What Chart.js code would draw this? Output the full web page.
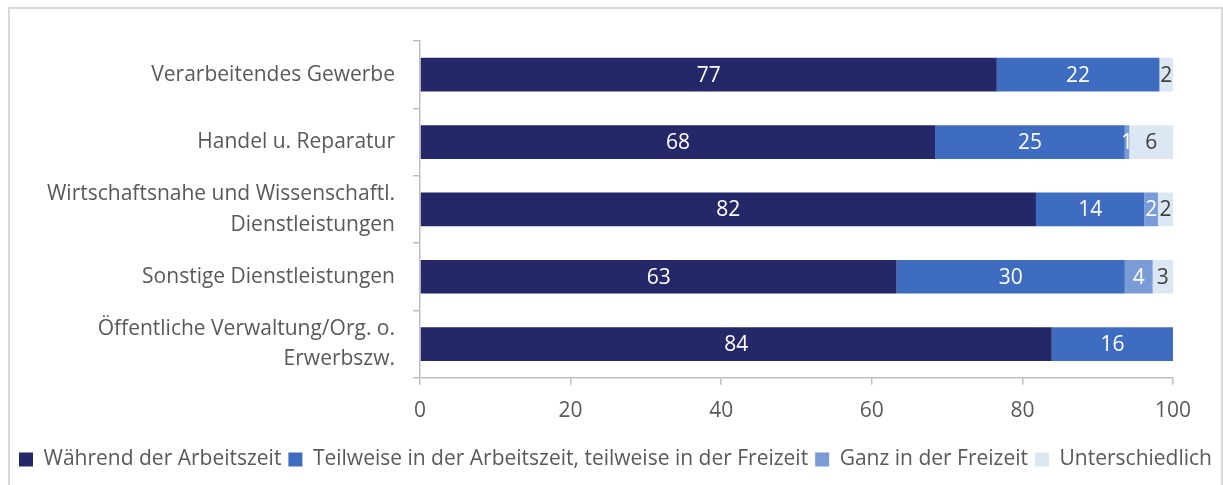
<!DOCTYPE html>
<html>
<head>
<meta charset="utf-8">
<script src="https://cdn.jsdelivr.net/npm/chart.js@4/dist/chart.umd.min.js"></script>
<style>
  html, body { margin: 0; padding: 0; background: #fff; overflow: hidden; }
  #frame { position: absolute; left: 8px; top: 7px; width: 1211px; height: 500px; border: 2px solid #D9D9D9; border-bottom: none; }
  #wrap { position: absolute; left: 0; top: 0; width: 1223px; height: 485px; }
</style>
</head>
<body>
<div id="frame"></div>
<div id="wrap"><canvas id="chart"></canvas></div>
<script>
const categories = [
  "Verarbeitendes Gewerbe",
  "Handel u. Reparatur",
  ["Wirtschaftsnahe und Wissenschaftl.", "Dienstleistungen"],
  "Sonstige Dienstleistungen",
  ["Öffentliche Verwaltung/Org. o.", "Erwerbszw."]
];
const seriesNames = [
  "Während der Arbeitszeit",
  "Teilweise in der Arbeitszeit, teilweise in der Freizeit",
  "Ganz in der Freizeit",
  "Unterschiedlich"
];
const waehrend = [76.6, 68.4, 81.8, 63.3, 83.9];
const teilweise = [21.6, 25.2, 14.4, 30.3, 16.1];
const ganz = [0, 0.6, 1.8, 3.7, 0];
const unterschiedlich = [1.8, 5.8, 2.0, 2.7, 0];
const xTicks = [0, 20, 40, 60, 80, 100];

const colors = ["#242768", "#3D6CC0", "#7A9CD6", "#DCE7F4"];
const labelColors = ["#fff", "#fff", "#fff", "#404040"];
const font = "'Open Sans', sans-serif";

// Werte in die Balken schreiben
const barLabels = {
  id: "barLabels",
  afterDatasetsDraw(chart) {
    const ctx = chart.ctx;
    ctx.save();
    ctx.font = "21px " + font;
    ctx.textAlign = "center";
    ctx.textBaseline = "middle";
    chart.data.datasets.forEach((ds, i) => {
      chart.getDatasetMeta(i).data.forEach((bar, j) => {
        const v = ds.data[j];
        if (!v) return;
        const p = bar.getCenterPoint();
        ctx.fillStyle = labelColors[i];
        ctx.fillText(Math.round(v), p.x, p.y + 1);
      });
    });
    ctx.restore();
  }
};

new Chart(document.getElementById("chart"), {
  type: "bar",
  data: {
    labels: categories,
    datasets: [waehrend, teilweise, ganz, unterschiedlich].map((d, i) => ({
      label: seriesNames[i],
      data: d,
      backgroundColor: colors[i],
      borderWidth: 0,
      barPercentage: 0.5,
      categoryPercentage: 1
    }))
  },
  options: {
    indexAxis: "y",
    responsive: true,
    maintainAspectRatio: false,
    animation: false,
    layout: { padding: { top: 41, bottom: 5, left: 8, right: 0 } },
    plugins: {
      tooltip: { enabled: false },
      legend: {
        position: "bottom",
        labels: {
          font: { family: font, size: 21 },
          color: "#595959",
          boxWidth: 14,
          boxHeight: 14,
          padding: 7
        }
      }
    },
    scales: {
      x: {
        stacked: true,
        min: 0,
        max: 100,
        afterBuildTicks: s => { s.ticks = xTicks.map(v => ({ value: v })); },
        afterFit: s => { s.height += 4; },
        ticks: { font: { family: font, size: 21, lineHeight: 1.2 }, color: "#595959", padding: 14 },
        grid: { drawOnChartArea: false, tickLength: 7, color: "#BFBFBF", lineWidth: 1.5 },
        border: { color: "#BFBFBF", width: 1.5 }
      },
      y: {
        stacked: true,
        afterFit: s => { s.width = 412; s.paddingTop = 0; s.paddingBottom = 0; },
        ticks: { font: { family: font, size: 21, lineHeight: 1.45 }, color: "#595959", padding: 18 },
        grid: { offset: true, drawOnChartArea: false, tickLength: 7, color: "#BFBFBF", lineWidth: 1.5 },
        border: { color: "#BFBFBF", width: 1.5 }
      },
      yRight: {
        type: "category",
        position: "right",
        ticks: { display: false },
        grid: { display: false },
        border: { display: false },
        afterFit: s => { s.width = 50; }
      }
    }
  },
  plugins: [barLabels]
});
</script>
</body>
</html>
